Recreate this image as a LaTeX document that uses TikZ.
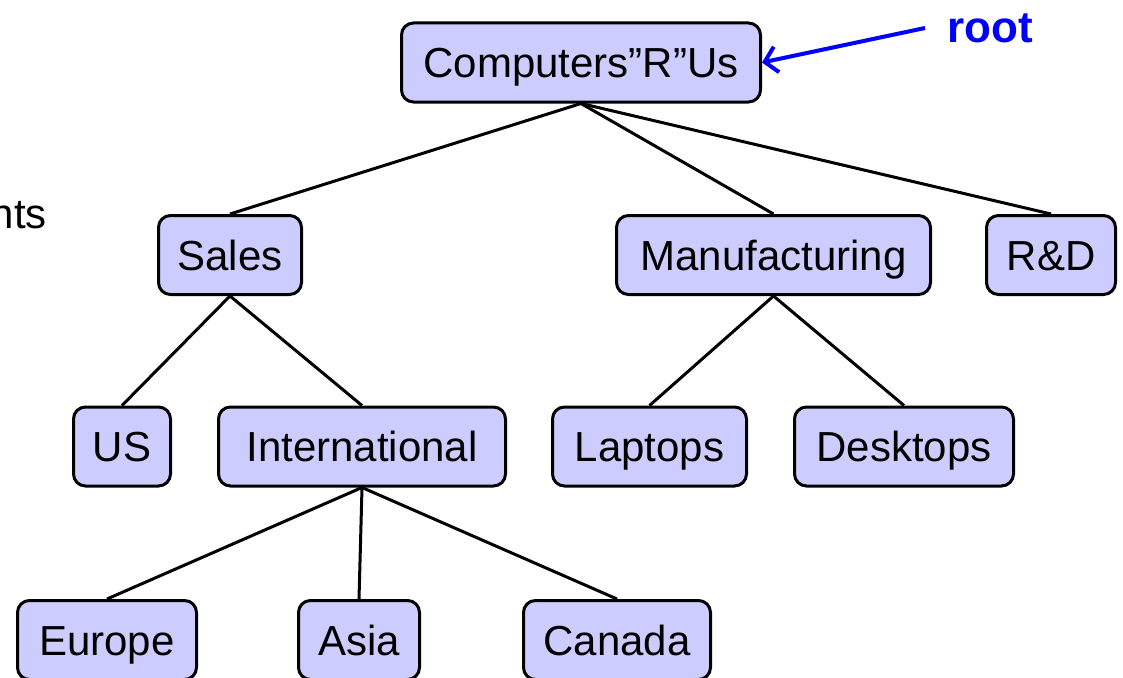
\documentclass[tikz,border=0pt]{standalone}
\usepackage{fontspec}
\setmainfont{Liberation Sans}
\usetikzlibrary{arrows.meta}
\definecolor{boxfill}{RGB}{204,204,255}
\tikzset{
  box/.style={draw, line width=3pt, fill=boxfill, rounded corners=12pt, inner sep=0pt,
    minimum height=79pt, text height=30pt, text depth=0pt, font=\fontsize{42}{50}\selectfont},
  edge/.style={line width=3pt},
}
\begin{document}
\begin{tikzpicture}[x=1pt,y=-1pt]
\useasboundingbox (0,0) rectangle (1123,677);
\clip (0,0) rectangle (1123,677);
\node[box, minimum width=359pt] (root) at (581,62.5) {Computers”R”Us};
\node[box, minimum width=143pt] (sales) at (230,255) {Sales};
\node[box, minimum width=314pt] (manu) at (773.5,255) {Manufacturing};
\node[box, minimum width=129pt] (rd) at (1051,255) {R\&D};
\node[box, minimum width=97pt] (us) at (122,446.5) {US};
\node[box, minimum width=287pt] (intl) at (362,446.5) {International};
\node[box, minimum width=194pt] (lap) at (649.5,446.5) {Laptops};
\node[box, minimum width=219pt] (desk) at (904,446.5) {Desktops};
\node[box, minimum width=179pt] (eur) at (107,640) {Europe};
\node[box, minimum width=121pt] (asia) at (359,640) {Asia};
\node[box, minimum width=187pt] (can) at (617,640) {Canada};
\draw[edge] (root.south) -- (sales.north);
\draw[edge] (root.south) -- (manu.north);
\draw[edge] (root.south) -- (rd.north);
\draw[edge] (sales.south) -- (us.north);
\draw[edge] (sales.south) -- (intl.north);
\draw[edge] (manu.south) -- (lap.north);
\draw[edge] (manu.south) -- (desk.north);
\draw[edge] (intl.south) -- (eur.north);
\draw[edge] (intl.south) -- (asia.north);
\draw[edge] (intl.south) -- (can.north);
\node[anchor=base east, font=\fontsize{42}{50}\selectfont, inner sep=0pt] (nts) at (47,228) {nts};
\node[anchor=center, font=\fontsize{44}{52}\selectfont\bfseries, text=blue, inner sep=0pt] (rootlbl) at (990,28) {root};
\coordinate (rt) at (925,28);
\draw[blue, line width=4pt, -{Straight Barb[length=12pt,width=26pt]}] (rt) -- (root.east);
\end{tikzpicture}
\end{document}
